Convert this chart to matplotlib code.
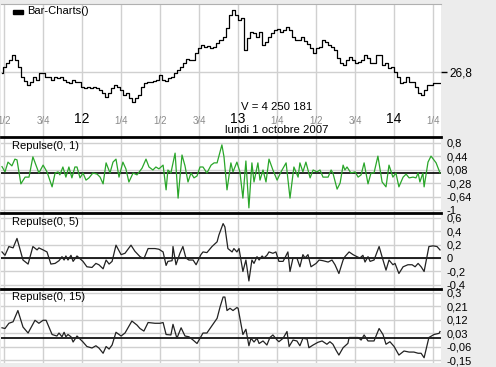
import numpy as np
import matplotlib
matplotlib.use("Agg")
import matplotlib.pyplot as plt
from matplotlib.patches import Rectangle

plt.rcParams['font.family'] = ['Liberation Sans', 'DejaVu Sans']

W, H = 496, 367

# closing prices, one per bar
closes = [26.79, 26.85, 26.89, 26.92, 26.97, 26.92, 26.85, 26.75, 26.71, 26.67,
          26.70, 26.75, 26.72, 26.79, 26.79, 26.75, 26.75, 26.72, 26.75, 26.74,
          26.75, 26.72, 26.70, 26.69, 26.72, 26.70, 26.70, 26.65, 26.64, 26.65,
          26.64, 26.65, 26.64, 26.62, 26.59, 26.55, 26.59, 26.64, 26.67, 26.65,
          26.62, 26.57, 26.59, 26.54, 26.50, 26.54, 26.57, 26.65, 26.69, 26.70,
          26.70, 26.71, 26.72, 26.77, 26.72, 26.71, 26.74, 26.75, 26.79, 26.82,
          26.85, 26.89, 26.93, 26.92, 26.92, 26.99, 27.04, 27.07, 27.05, 27.06,
          27.04, 27.05, 27.09, 27.12, 27.15, 27.24, 27.37, 27.42, 27.37, 27.32,
          27.34, 27.02, 27.14, 27.20, 27.19, 27.15, 27.20, 27.07, 27.10, 27.15,
          27.19, 27.22, 27.23, 27.20, 27.22, 27.25, 27.22, 27.15, 27.12, 27.12,
          27.15, 27.11, 27.08, 27.04, 26.99, 27.04, 27.05, 27.12, 27.10, 27.07,
          27.05, 27.02, 26.94, 26.89, 26.87, 26.92, 26.95, 26.92, 26.89, 26.90,
          26.92, 26.97, 26.94, 26.89, 26.89, 26.97, 26.97, 26.87, 26.89, 26.84,
          26.85, 26.80, 26.75, 26.69, 26.70, 26.75, 26.70, 26.70, 26.65, 26.59,
          26.57, 26.62, 26.67, 26.67, 26.69, 26.69, 26.69]

# Repulse(0, 1)
rep1_t = [0, 1, 2, 3.3, 4.3, 5, 6.3, 7.7, 9, 10.3,
          11.7, 12.3, 13.7, 15, 16.7, 17.7, 18.7, 19.3, 20.3, 21.3,
          22.3, 23.3, 24.3, 25, 26, 27, 28, 29, 30.3, 31.7,
          32.7, 33.7, 34.7, 36, 37, 38, 39, 40.3, 41.3, 42.3,
          43.7, 45, 46.7, 48, 49, 50.3, 51.3, 52.3, 53.7, 54.7,
          55.3, 56.3, 57.7, 58.7, 60, 61, 62, 63, 64, 65,
          66, 67, 68.3, 69.7, 70.7, 71.7, 73.3, 74, 75, 76.3,
          77, 78.3, 79.3, 80.3, 81.3, 82.3, 83.3, 84, 85.3, 86,
          87, 88, 89, 90.3, 91.7, 93, 94.7, 96, 97.3, 98.7,
          99.3, 100.3, 101.3, 102.7, 103.7, 105, 106, 107, 108.7, 109.7,
          110.3, 111.7, 112.7, 113.7, 114.3, 115, 116.3, 117.7, 118.7, 119.7,
          120.7, 122, 123, 124, 125.3, 126.7, 128, 129, 130.3, 131.3,
          132.3, 133.7, 134.7, 135.7, 137, 138, 138.7, 139.3, 140.3, 140.7,
          142, 143, 144.7, 146]
rep1_v = [0.17, 0.03, 0.29, 0.19, 0.37, 0.35, -0.29, -0.11, -0.11, 0.43,
          0.13, 0.00, 0.21, 0.03, -0.37, 0.00, 0.03, -0.05, 0.16, -0.11,
          0.16, -0.13, 0.16, 0.16, -0.13, 0.00, -0.19, -0.13, 0.00, -0.03,
          -0.11, -0.29, 0.27, 0.00, 0.29, 0.37, -0.11, 0.29, 0.11, -0.24,
          0.00, -0.05, 0.13, 0.37, 0.16, 0.08, 0.16, 0.11, 0.21, -0.45,
          0.08, 0.00, 0.53, -0.67, 0.48, 0.19, -0.24, 0.00, -0.13, -0.08,
          0.16, 0.16, 0.00, 0.21, 0.27, 0.27, 0.75, 0.43, -0.45, 0.27,
          0.03, 0.29, 0.03, -0.67, 0.32, -0.93, 0.27, -0.24, 0.27, -0.19,
          0.08, -0.24, 0.37, 0.08, -0.19, 0.03, 0.27, -0.67, 0.16, -0.11,
          0.27, 0.03, 0.29, -0.13, 0.08, 0.03, 0.08, -0.11, -0.11, 0.08,
          0.00, -0.43, -0.27, 0.21, 0.08, 0.16, 0.00, 0.03, -0.11, -0.05,
          0.27, -0.29, 0.00, 0.00, 0.45, -0.24, -0.37, 0.21, -0.11, 0.00,
          -0.37, -0.11, -0.03, -0.13, -0.11, -0.13, 0.00, -0.24, 0.00, -0.37,
          0.29, 0.45, 0.27, 0.00]

# Repulse(0, 5)
rep5_t = [0, 1, 2.3, 3.7, 5, 7, 8.7, 10.3, 11.7, 12.3,
          13.7, 15, 16.3, 17.7, 19, 20, 20.7, 21.3, 22, 23,
          23.7, 25, 26, 27, 28.3, 30, 31.3, 32.3, 33.7, 34.7,
          35.7, 36.7, 38, 39.7, 41, 43, 44.3, 46, 47.3, 48.7,
          51, 52.3, 53.7, 54.7, 55.3, 56.7, 57, 58, 59.3, 60.3,
          61.3, 62.3, 63.7, 64.7, 66.3, 67, 68.3, 70, 71.7, 72.3,
          73.7, 74.3, 75.3, 76.7, 77.3, 78.3, 79, 80.3, 81.3, 82.3,
          83.3, 84, 85, 85.7, 86.7, 87.3, 88.3, 89, 90.3, 91.3,
          92.3, 93.7, 95.3, 96, 97, 98.3, 99.3, 100.3, 101, 102,
          103, 104.7, 105.7, 107, 108.7, 110, 111, 112.3, 113.7, 114.3,
          115.7, 117, 118.3, 119.3, 120.3, 121, 122, 122.7, 124, 125.7,
          127, 128, 129, 130.3, 131, 132.3, 133.7, 135.3, 136.7, 137.7,
          138.7, 139.7, 140.7, 142.3, 143.7, 145, 146]
rep5_v = [0.09, 0.04, 0.17, 0.15, 0.29, -0.03, -0.09, 0.17, 0.12, 0.15,
          0.12, 0.09, -0.09, -0.08, -0.04, 0.02, -0.03, 0.03, -0.03, 0.04,
          -0.05, 0.03, -0.01, -0.05, -0.13, -0.14, -0.08, -0.10, -0.16, -0.03,
          -0.09, -0.05, 0.19, 0.05, 0.07, 0.19, 0.10, 0.02, -0.01, 0.14,
          0.14, 0.13, 0.09, -0.11, -0.05, -0.04, 0.17, -0.10, 0.07, 0.17,
          0.00, -0.03, -0.03, -0.10, 0.05, 0.09, 0.08, 0.17, 0.24, 0.34,
          0.51, 0.46, 0.14, 0.09, 0.14, 0.09, 0.14, -0.20, -0.03, -0.34,
          -0.03, -0.08, 0.02, -0.03, 0.03, 0.00, 0.04, 0.09, 0.07, 0.09,
          -0.05, -0.05, 0.09, -0.20, 0.00, 0.00, -0.13, 0.05, 0.00, 0.05,
          -0.13, -0.08, -0.03, -0.04, -0.06, -0.03, -0.10, -0.23, -0.03, 0.02,
          0.09, 0.05, 0.02, 0.00, 0.04, -0.06, 0.02, -0.05, -0.03, 0.17,
          -0.03, -0.18, -0.03, -0.10, -0.08, -0.23, -0.13, -0.10, -0.10, -0.13,
          -0.08, -0.13, -0.20, 0.17, 0.18, 0.17, 0.12]

# Repulse(0, 15)
rep15_t = [0, 1, 2.3, 3.7, 5.3, 7, 8.7, 11, 12.3, 13.7,
           14.7, 16.7, 18.3, 19, 20, 20.7, 21.3, 22, 23, 23.7,
           25, 26, 27, 28.3, 30, 31.3, 32.3, 33.7, 34.7, 35.7,
           36.7, 38, 39.7, 41, 43.3, 45, 46, 47.3, 48.7, 51,
           52.7, 53.7, 54.7, 56.3, 57, 58.3, 59.7, 61, 62.3, 63.7,
           65, 67, 68.3, 70.3, 71.7, 72.7, 73.7, 74.3, 75, 76,
           77, 78.3, 78.7, 80.3, 81.3, 82.3, 83, 84, 85, 85.7,
           87, 88.3, 89.3, 90.3, 91.7, 92.3, 93.7, 95, 95.7, 97,
           98.3, 99.3, 100.3, 101.7, 102.3, 103.7, 105.3, 106.7, 108.3, 109.3,
           110.3, 111.3, 112.3, 113.7, 115.3, 115.7, 118.7, 119.7, 120.7, 122,
           124, 125.7, 127, 128, 129.3, 130.7, 132.3, 134, 135.7, 137.3,
           138.7, 139.7, 140.7, 142.3, 144, 145.7, 146]
rep15_v = [0.065, 0.06, 0.095, 0.105, 0.18, 0.07, 0.03, 0.115, 0.095, 0.115,
           0.115, 0.02, 0.01, 0.03, 0.005, 0.035, 0.005, 0.02, 0.005, -0.03,
           0.01, -0.01, -0.03, -0.06, -0.07, -0.055, -0.07, -0.105, -0.06, -0.077,
           -0.05, 0.035, 0.01, 0.03, 0.11, 0.083, 0.06, 0.043, 0.1, 0.095,
           0.095, 0.1, 0.02, 0.017, 0.088, -0.005, 0.065, 0.01, 0.005, -0.017,
           -0.04, 0.03, 0.03, 0.088, 0.128, 0.205, 0.27, 0.27, 0.18, 0.195,
           0.18, 0.2, 0.195, 0.02, 0.055, -0.055, -0.005, -0.03, -0.005, -0.04,
           -0.023, -0.05, 0.0, 0.017, -0.017, -0.028, -0.005, 0.04, -0.06, -0.017,
           -0.023, -0.055, -0.005, -0.01, -0.068, -0.05, -0.032, -0.023, -0.045, -0.028,
           -0.045, -0.083, -0.117, -0.068, -0.039, 0.0, 0.0, -0.017, 0.017, -0.023,
           -0.023, 0.06, 0.02, -0.045, -0.028, -0.06, -0.117, -0.09, -0.097, -0.097,
           -0.105, -0.105, -0.135, 0.0, 0.02, 0.028, 0.04]

# time axis (bar units): quarter-day ticks
quarter_pos = [0.67, 13.67, 26.67, 39.67, 52.67, 65.67, 78.67, 91.67, 104.67, 117.67, 130.67, 143.67]
quarter_lab = ["1/2", "3/4", "12", "1/4", "1/2", "3/4", "13", "1/4", "1/2", "3/4", "14", "1/4"]

grid_c = "#d0d0d0"

fig = plt.figure(figsize=(W / 100, H / 100), dpi=100)
fig.patch.set_facecolor("#ececec")


def add_panel(y0, y1, lo, hi):
    ax = fig.add_axes([1 / W, 1 - y1 / H, 440 / W, (y1 - y0) / H])
    ax.set_facecolor("white")
    for s in ax.spines.values():
        s.set_visible(False)
    ax.set_xlim(-0.33, 146.33)
    ax.set_ylim(lo, hi)
    ax.set_xticks([])
    ax.yaxis.tick_right()
    ax.tick_params(axis="y", length=0, pad=4, labelsize=8)
    for q in quarter_pos:
        ax.axvline(q, color=grid_c, lw=1, zorder=0)
    return ax


def fmt(v):
    s = ("%g" % v).replace(".", ",")
    return s


# price panel
ax0 = add_panel(4, 137, 26.15, 27.48)
ax0.spines["top"].set_visible(True)
ax0.spines["top"].set_color("#b0b0b0")
ax0.axhline(26.8, color=grid_c, lw=1, zorder=0)
ax0.set_yticks([26.8])
ax0.set_yticklabels(["26,8"])
ax0.tick_params(axis="y", length=4, width=1, pad=2, labelsize=8.5)
ax0.plot(np.arange(len(closes)), closes, color="black", lw=0.9, drawstyle="steps-mid")
ax0.add_patch(Rectangle((11.5 / 440, 1 - 9.5 / 133), 10 / 440, 3.5 / 133,
                        transform=ax0.transAxes, color="black"))
ax0.text(26 / 440, 1 - 7.5 / 133, "Bar-Charts()", transform=ax0.transAxes,
         fontsize=8, va="center", ha="left")
tr = ax0.get_xaxis_transform()
for q, lab in zip(quarter_pos, quarter_lab):
    if "/" in lab:
        ax0.text(q, 0.12, lab, transform=tr, ha="center", va="center", fontsize=7, color="#8a8a8a")
    else:
        ax0.text(q, 0.135, lab, transform=tr, ha="center", va="center", fontsize=10, color="black")
ax0.text(91.67, 0.225, "V = 4 250 181", transform=tr, ha="center", va="center", fontsize=8.2)
ax0.text(91.67, 0.05, "lundi 1 octobre 2007", transform=tr, ha="center", va="center", fontsize=8.2)

panels = [
    (137, 213, -1.067, 0.96, rep1_t, rep1_v, "#2aa62a", "Repulse(0, 1)",
     [0.8, 0.44, 0.08, -0.28, -0.64, -1]),
    (213, 288.5, -0.452, 0.667, rep5_t, rep5_v, "#222222", "Repulse(0, 5)",
     [0.6, 0.4, 0.2, 0, -0.2, -0.4]),
    (288.5, 363, -0.17, 0.327, rep15_t, rep15_v, "#222222", "Repulse(0, 15)",
     [0.3, 0.21, 0.12, 0.03, -0.06, -0.15]),
]
for y0, y1, lo, hi, t, v, col, title, ticks in panels:
    ax = add_panel(y0, y1, lo, hi)
    ax.spines["top"].set_visible(True)
    ax.spines["top"].set_color("black")
    ax.spines["top"].set_linewidth(2)
    for tk in ticks:
        ax.axhline(tk, color=grid_c, lw=1, zorder=0)
    ax.axhline(0, color="black", lw=1.2, zorder=1)
    ax.set_yticks(ticks)
    ax.set_yticklabels([fmt(tk) for tk in ticks])
    for lbl in ax.get_yticklabels():
        lbl.set_clip_on(False)
    ax.plot(t, v, color=col, lw=0.9, zorder=2)
    ax.text(11 / 440, 1 - 9 / (y1 - y0), title, transform=ax.transAxes,
            fontsize=8, va="center", ha="left")

fig.savefig("out.png", dpi=100, facecolor=fig.get_facecolor())
